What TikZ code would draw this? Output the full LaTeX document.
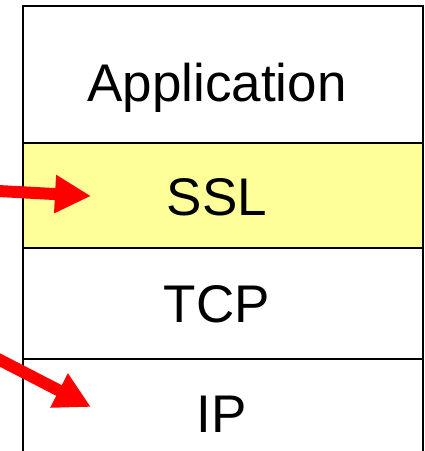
\documentclass[tikz,border=0pt]{standalone}
\usepackage{fontspec}
\setmainfont{Liberation Sans}
\usetikzlibrary{arrows.meta}
\definecolor{layeryellow}{RGB}{255,255,153}
\tikzset{
  layer/.style={draw=black, line width=2pt, minimum width=400pt, inner sep=0pt, outer sep=0pt},
  layertext/.style={anchor=base, inner sep=0pt, font=\fontsize{53}{60}\selectfont},
  pointer/.style={draw=red, line width=12pt, -{Triangle[length=36pt,width=36pt]}}
}
\begin{document}
\begin{tikzpicture}[x=1pt,y=-1pt]
  \useasboundingbox (0,0) rectangle (425,451);
  \clip (0,0) rectangle (425,451);
  % protocol stack
  \node[layer, fill=white, minimum height=137pt] (app) at (223,74.5) {};
  \node[layer, fill=layeryellow, minimum height=105pt] (ssl) at (223,195.5) {};
  \node[layer, fill=white, minimum height=111pt] (tcp) at (223,303.5) {};
  \node[layer, fill=white, minimum height=111pt] (ip) at (223,414.5) {};
  % layer names
  \node[layertext] (apptext) at (217,101) {Application};
  \node[layertext] (ssltext) at (217,215) {SSL};
  \node[layertext] (tcptext) at (217,322) {TCP};
  \node[layertext] (iptext) at (222,432) {IP};
  % incoming pointers
  \coordinate (sslfrom) at (-20,190);
  \coordinate (sslin) at (91,196);
  \coordinate (ipfrom) at (-40,339.4);
  \coordinate (ipin) at (91,407);
  \draw[pointer] (sslfrom) -- (sslin);
  \draw[pointer] (ipfrom) -- (ipin);
\end{tikzpicture}
\end{document}
